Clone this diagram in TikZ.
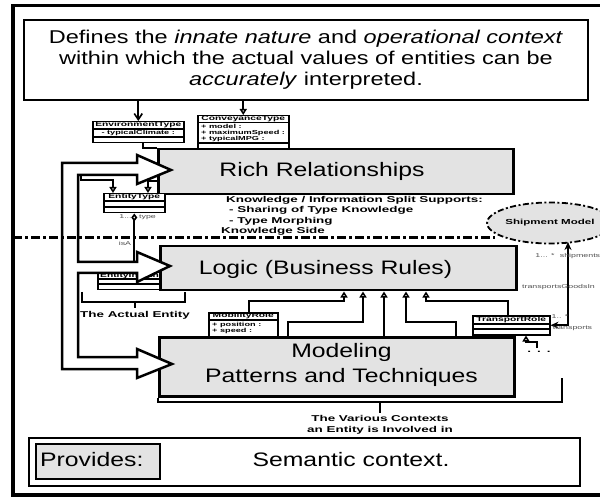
\documentclass[tikz,border=0pt]{standalone}
\usepackage{fontspec}
\setmainfont{Liberation Sans}[FakeStretch=1.27]
\newfontfamily\smallsans{Liberation Sans}[FakeStretch=1.58]
\usetikzlibrary{arrows.meta,positioning,calc,shapes.geometric}
\definecolor{cGray}{HTML}{E3E3E3}
\definecolor{cLabel}{HTML}{505050}
\newcommand{\bigtxt}{\fontsize{19.5}{25}\selectfont}
\newcommand{\toptxt}{\fontsize{18.5}{21}\selectfont}
\newcommand{\smalltxt}{\smallsans\bfseries\fontsize{8.5}{10.5}\selectfont}
\newcommand{\clstxt}{\smallsans\bfseries\fontsize{6.5}{7}\selectfont}
\newcommand{\attrtxt}{\smallsans\bfseries\fontsize{5.8}{6}\selectfont}
\newcommand{\roletxt}{\smallsans\fontsize{5.6}{6}\selectfont}
\newcommand{\shiptxt}{\smallsans\bfseries\fontsize{7.3}{8}\selectfont}
\tikzset{
  >=Stealth,
  outerframe/.style={draw=black,line width=3.5pt},
  notebox/.style={draw=black,line width=2pt,fill=white,inner sep=0pt},
  layerbox/.style={draw=black,line width=2.5pt,fill=cGray,inner sep=0pt},
  provbox/.style={draw=black,line width=2pt,fill=cGray,inner sep=0pt},
  bigtext/.style={font=\bigtxt,inner sep=0pt,align=center},
  clsbox/.style={draw=black,line width=1.5pt,fill=white,inner sep=0pt},
  clsline/.style={line width=1.2pt},
  clshead/.style={font=\clstxt,inner sep=0pt},
  clsattr/.style={font=\attrtxt,inner sep=0pt,align=left},
  smalltext/.style={font=\smalltxt,inner sep=0pt},
  rolelabel/.style={font=\roletxt,text=cLabel,inner sep=0pt},
  gen/.style={-{Triangle[open,length=6pt,width=7pt]},line width=1.6pt},
  dep/.style={-{Straight Barb[length=6pt,width=8pt]},line width=1.6pt},
  assoc/.style={{Stealth[length=8pt,width=7pt]}-{Stealth[length=8pt,width=7pt]},line width=1.6pt},
  pipe/.style={draw=black,fill=white,line width=2.5pt,line join=miter},
  splitline/.style={line width=3pt,dash pattern=on 9pt off 3pt on 3pt off 3pt},
  shipnode/.style={ellipse,draw=black,fill=cGray,line width=1.8pt,
    dash pattern=on 6pt off 2.5pt on 2pt off 2.5pt,
    minimum width=96pt,minimum height=41pt,inner sep=0pt,font=\shiptxt},
  bracket/.style={line width=1.8pt},
}

\begin{document}
\begin{tikzpicture}[x=1pt,y=-1pt]
\useasboundingbox (0,0) rectangle (600,497);
\draw[outerframe] (13,5.5) rectangle (606,495);

% purpose text on top
\node[notebox,minimum width=564,minimum height=80,align=center,font=\toptxt] (purpose) at (306,60)
  {Defines the \textit{innate nature} and \textit{operational context}\\within which the actual values of entities can be\\\textit{accurately} interpreted.};

% type classes
\node[clsbox,anchor=north west,minimum width=91,minimum height=21] (env) at (92,121) {};
\draw[clsline] ([yshift=-8pt]env.north west) -- ([yshift=-8pt]env.north east)
  ([yshift=-16pt]env.north west) -- ([yshift=-16pt]env.north east);
\node[clshead] (envName) at ([yshift=-4pt]env.north) {EnvironmentType};
\node[clsattr] (envAttr) at ([yshift=-12pt]env.north) {- typicalClimate :};

\node[clsbox,anchor=north west,minimum width=91,minimum height=35] (conv) at (197,115) {};
\draw[clsline] ([yshift=-7.5pt]conv.north west) -- ([yshift=-7.5pt]conv.north east)
  ([yshift=-28pt]conv.north west) -- ([yshift=-28pt]conv.north east);
\node[clshead] (convName) at ([yshift=-3.75pt]conv.north) {ConveyanceType};
\node[clsattr,anchor=north west] (convAttr) at ([xshift=4pt,yshift=-9.5pt]conv.north west)
  {+ model :\\+ maximumSpeed :\\+ typicalMPG :};

\draw[dep] (purpose.south -| env.north) -- (env.north);
\draw[gen] (purpose.south -| conv.north) -- (conv.north);

% rich relationships
\node[layerbox,anchor=north west,minimum width=355,minimum height=45] (rich) at (157,148) {};
\node[bigtext] (richText) at (322,171.5) {Rich Relationships};
\draw[line width=1.6pt] ([xshift=4.5pt]env.south) |- (rich.north west);

\node[smalltext,anchor=base west] (split1) at (226,203) {Knowledge / Information Split Supports:};
\node[smalltext,anchor=base west] (split2) at (229,213) {- Sharing of Type Knowledge};
\node[smalltext,anchor=base west] (split3) at (229,223.5) {- Type Morphing};
\node[smalltext,anchor=base west] (knowSide) at (221,234) {Knowledge Side};

% entity type
\node[clsbox,anchor=north west,minimum width=61,minimum height=19] (ent) at (103,193) {};
\draw[clsline] ([yshift=-8pt]ent.north west) -- ([yshift=-8pt]ent.north east)
  ([yshift=-14pt]ent.north west) -- ([yshift=-14pt]ent.north east);
\node[clshead] (entName) at ([yshift=-4pt]ent.north) {EntityType};
\coordinate (genA) at (81,176);
\coordinate (genB) at (113,180);
\coordinate (genC) at (157,181);
\coordinate (genD) at (148,181);
\draw[gen] (genA) |- (genB) -- (genB |- ent.north);
\draw[gen] (genC) -- (genD) -- (genD |- ent.north);
\coordinate (isaStop) at (0,262);
\draw[{Diamond[open,length=8pt,width=6pt]}-,line width=1.6pt] (ent.south) -- (ent.south |- isaStop);

% entity instance and logic
\node[clsbox,anchor=north west,minimum width=75,minimum height=17] (inst) at (97,272) {};
\draw[clsline] ([yshift=-7pt]inst.north west) -- ([yshift=-7pt]inst.north east)
  ([yshift=-12pt]inst.north west) -- ([yshift=-12pt]inst.north east);
\node[clshead] (instName) at ([yshift=-3.5pt]inst.north) {EntityInstance};
\node[layerbox,anchor=north west,minimum width=356,minimum height=44] (logic) at (159,245) {};
\node[bigtext] (logicText) at (325.5,269.5) {Logic (Business Rules)};

% roles and modeling
\node[clsbox,anchor=north west,minimum width=69,minimum height=28] (mob) at (208,312) {};
\draw[clsline] ([yshift=-8pt]mob.north west) -- ([yshift=-8pt]mob.north east);
\node[clshead] (mobName) at ([yshift=-4pt]mob.north) {MobilityRole};
\node[clsattr,anchor=north west] (mobAttr) at ([xshift=4pt,yshift=-10pt]mob.north west)
  {+ position :\\+ speed :};
\node[clsbox,anchor=north west,minimum width=77,minimum height=19] (tr) at (472,315) {};
\draw[clsline] ([yshift=-9pt]tr.north west) -- ([yshift=-9pt]tr.north east)
  ([yshift=-14pt]tr.north west) -- ([yshift=-14pt]tr.north east);
\node[clshead] (trName) at ([yshift=-4.5pt]tr.north) {TransportRole};
\node[layerbox,anchor=north west,minimum width=355,minimum height=59] (model) at (158,336) {};
\node[bigtext] (modelText) at (341.5,364.5) {Modeling\\Patterns and Techniques};

\coordinate (b1) at (249,301); \coordinate (t1) at (344,301);
\coordinate (b2) at (288,322); \coordinate (t2) at (363,322);
\coordinate (t3) at (384,322);
\coordinate (b4) at (456,322); \coordinate (t4) at (406,322);
\coordinate (b5) at (508,301); \coordinate (t5) at (426,301);
\draw[gen] (b1 |- mob.north) -- (b1) -- (t1) -- (t1 |- logic.south);
\draw[gen] (b2 |- model.north) -- (b2) -- (t2) -- (t2 |- logic.south);
\draw[gen] (t3 |- model.north) -- (t3 |- logic.south);
\draw[gen] (b4 |- model.north) -- (b4) -- (t4) -- (t4 |- logic.south);
\draw[gen] (b5 |- tr.north) -- (b5) -- (t5) -- (t5 |- logic.south);
\coordinate (b6) at (537,348); \coordinate (t6) at (526,342);
\draw[gen] (b6) |- (t6) -- (t6 |- tr.south);
\node[smalltext] (trMore) at (539,352) {.\hspace{6pt}.\hspace{6pt}.};

% the big open arrow
\draw[pipe] (137,163) -- (62,163) -- (62,369) -- (137,369) -- (137,378) -- (172,364)
  -- (137,349) -- (137,357) -- (78,357) -- (78,273) -- (137,273) -- (137,282)
  -- (170,266) -- (137,252) -- (137,262) -- (78,262) -- (78,175) -- (137,175)
  -- (137,184) -- (171,170) -- (137,155) -- cycle;

% knowledge / information split
\coordinate (splitL) at (13,238);
\coordinate (splitR) at (495,238);
\draw[splitline] (splitL) -- (splitR);

\node[rolelabel] (entMult) at (125.5,217) {1...};
\node[rolelabel] (entRole) at (147.5,217) {type};
\node[rolelabel] (isA) at (125,243) {isA};

% the actual entity
\coordinate (aeL) at (82,292);
\coordinate (aeR) at (185,292);
\coordinate (aeTick) at (135,302);
\draw[bracket] (aeL) -- ++(0,10) -| (aeR);
\draw[bracket] (aeTick) -- ++(0,6);
\node[smalltext] (actual) at (135,315.5) {The Actual Entity};

% the various contexts
\coordinate (ctxL) at (158,402);
\coordinate (ctxR) at (562,402);
\coordinate (ctxTop) at (562,378);
\coordinate (ctxTick) at (380,402);
\draw[bracket] (model.south west) -- (ctxL) -- (ctxR) -- (ctxTop);
\draw[bracket] (ctxTick) -- ++(0,11);
\node[smalltext,align=center] (ctx) at (380,425) {The Various Contexts\\an Entity is Involved in};

% shipment model
\node[shipnode] (ship) at (550,223) {Shipment Model};
\coordinate (shipIn) at (568,242);
\draw[assoc] (shipIn) |- (tr.east);
\node[rolelabel] (shipMult) at (545,256) {1... *};
\node[rolelabel] (shipRole) at (580,256) {shipments};
\node[rolelabel] (assocName) at (558.5,287) {transportsGoodsIn};
\node[rolelabel] (trMult) at (560,317) {1.. *};
\node[rolelabel] (trRole) at (572.5,328) {transports};

% provides
\node[notebox,anchor=north west,minimum width=551,minimum height=48] (semBox) at (28,437) {};
\node[provbox,anchor=north west,minimum width=124,minimum height=35] (prov) at (35,443) {};
\node[bigtext,anchor=west] (provText) at (40,460) {Provides:};
\node[bigtext] (semText) at (351,460) {Semantic context.};
\end{tikzpicture}
\end{document}
